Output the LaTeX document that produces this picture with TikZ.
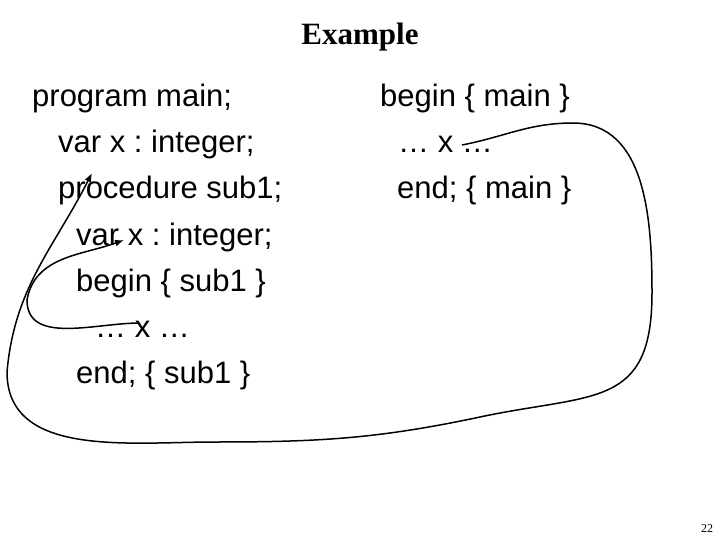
\documentclass[tikz,border=0pt]{standalone}
\usepackage{fontspec}
\setmainfont{Liberation Sans}
\newfontfamily\timesfont{Liberation Serif}
\usetikzlibrary{arrows.meta}

\tikzset{
	code/.style={font=\fontsize{31}{31}\selectfont, inner sep=0pt, anchor=base west},
	scopeline/.style={line width=1.5pt, -{Latex[length=9pt,width=7pt]}}
}

\begin{document}
\frenchspacing
\begin{tikzpicture}[x=1pt, y=1pt]

	\useasboundingbox (0,0) rectangle (720,-540);

	% title and page number
	\node[font=\timesfont\bfseries\fontsize{31}{31}\selectfont, inner sep=0pt, anchor=base] (title) at (360,-45) {Example};
	\node[font=\timesfont\fontsize{12}{12}\selectfont, inner sep=0pt, anchor=base] (page) at (707,-532) {22};

	% program text, left column
	\node[code] (prog)  at (32,-107) {program main;};
	\node[code] (varx)  at (58,-153) {var x : integer;};
	\node[code] (proc)  at (58,-199) {procedure sub1;};
	\node[code] (varxs) at (76,-245) {var x : integer;};
	\node[code] (begs)  at (76,-291) {begin \{ sub1 \}};
	\node[code] (uses)  at (95,-337) {… x …};
	\node[code] (ends)  at (76,-383) {end; \{ sub1 \}};

	% program text, right column
	\node[code] (begm)  at (380,-107) {begin \{ main \}};
	\node[code] (usem)  at (398,-153) {… x …};
	\node[code] (endm)  at (397,-199) {end; \{ main \}};

	% define the points of the outer curve
	\coordinate (m0) at (462,-145);
	\coordinate (m1) at (573,-123);
	\coordinate (m2) at (652,-293);
	\coordinate (m3) at (480,-417);
	\coordinate (m4) at (215,-442);
	\coordinate (m5) at (7,-372);
	\coordinate (m6) at (92,-173);

	% define the points of the inner curve
	\coordinate (s0) at (140,-323);
	\coordinate (s1) at (27,-300);
	\coordinate (s2) at (124,-240);

	% x in main refers to the outer x
	\draw[scopeline] (m0) to[out=11,in=180] (m1) to[out=0,in=90] (m2)
		to[out=-90,in=12,looseness=1.4] (m3) to[out=192,in=0] (m4)
		to[out=180,in=-90] (m5) to[out=85,in=243] (m6);

	% x in sub1 refers to the inner x
	\draw[scopeline] (s0) to[out=180,in=-90] (s1) to[out=80,in=200] (s2);

\end{tikzpicture}
\end{document}
